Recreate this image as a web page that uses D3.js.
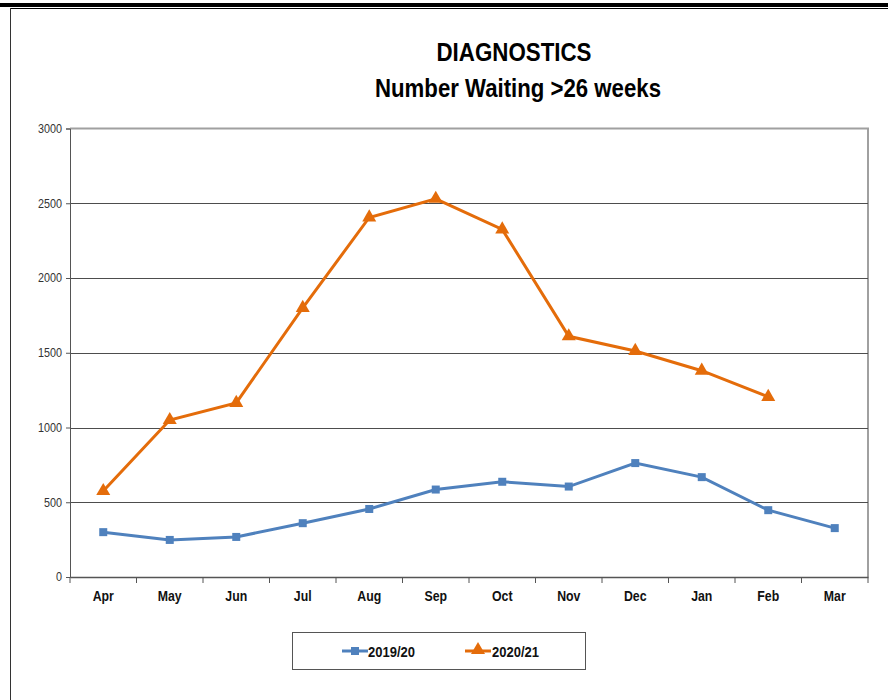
<!DOCTYPE html>
<html><head><meta charset="utf-8">
<script src="https://cdn.jsdelivr.net/npm/d3@7"></script>
<style>body{margin:0;background:#fff}svg{display:block}</style>
</head><body>
<script>
const months = ["Apr","May","Jun","Jul","Aug","Sep","Oct","Nov","Dec","Jan","Feb","Mar"];
const series2019 = [300, 248, 268, 360, 455, 585, 637, 605, 762, 668, 447, 327];
const series2020 = [575, 1050, 1165, 1800, 2405, 2530, 2325, 1610, 1512, 1380, 1205];
const yTicks = [0, 500, 1000, 1500, 2000, 2500, 3000];
const seriesNames = ["2019/20", "2020/21"];

const W = 888, H = 700;
const svg = d3.select("body").append("svg").attr("width", W).attr("height", H);
const narrow = "'Liberation Sans Narrow','Arial Narrow','Liberation Sans',Arial,sans-serif";

// frame lines
svg.append("rect").attr("x",0).attr("y",3).attr("width",W).attr("height",4).attr("fill","#000");
svg.append("line").attr("x1",10).attr("x2",W).attr("y1",8.5).attr("y2",8.5).attr("stroke","#000").attr("stroke-width",1);
svg.append("line").attr("x1",10.5).attr("x2",10.5).attr("y1",8).attr("y2",H).attr("stroke","#333").attr("stroke-width",1);

const L = 70, R = 868, T = 128.5, B = 577;
const x = d3.scaleBand().domain(months).range([L, R]);
const y = d3.scaleLinear().domain([0, 3000]).range([B, T]);

// title
svg.append("text").attr("x",514).attr("y",61).attr("text-anchor","middle")
  .attr("font-family",narrow).attr("font-weight","bold").attr("font-size",26)
  .attr("textLength",155).attr("lengthAdjust","spacingAndGlyphs").text("DIAGNOSTICS");
svg.append("text").attr("x",518).attr("y",97).attr("text-anchor","middle")
  .attr("font-family",narrow).attr("font-weight","bold").attr("font-size",26)
  .attr("textLength",286).attr("lengthAdjust","spacingAndGlyphs").text("Number Waiting >26 weeks");

// plot border (top/right)
svg.append("path").attr("d",`M${L},${T}H${R}V${B}`).attr("fill","none").attr("stroke","#a0a0a0").attr("stroke-width",2);

// gridlines
svg.append("g").selectAll("line").data(yTicks.filter(d=>d>0 && d<3000)).join("line")
  .attr("x1",L).attr("x2",R).attr("y1",d=>Math.round(y(d))+0.5).attr("y2",d=>Math.round(y(d))+0.5)
  .attr("stroke","#4d4d4d").attr("stroke-width",1);

// y axis
const ya = svg.append("g").attr("transform",`translate(${L},0)`)
  .call(d3.axisLeft(y).tickValues(yTicks).tickSize(4).tickPadding(4).tickFormat(d3.format("d")));
ya.select(".domain").attr("stroke","#555");
ya.selectAll(".tick line").attr("stroke","#555");
ya.selectAll("text").attr("font-family",narrow).attr("font-size",12).attr("fill","#333")
  .attr("x",-9).attr("transform","scale(0.9,1)");

// x axis
const xa = svg.append("g").attr("transform",`translate(0,${B})`)
  .call(d3.axisBottom(x).tickSize(0).tickPadding(14));
xa.select(".domain").attr("stroke","#555").attr("stroke-width",1.5);
xa.selectAll("text").attr("font-family",narrow).attr("font-weight","bold").attr("font-size",14).attr("fill","#111")
  .attr("transform","scale(0.88,1)");
svg.append("g").selectAll("line").data(d3.range(months.length+1)).join("line")
  .attr("x1",i=>L + i*x.bandwidth()).attr("x2",i=>L + i*x.bandwidth())
  .attr("y1",B).attr("y2",B+6).attr("stroke","#555");

const cx = (i) => x(months[i]) + x.bandwidth()/2;
const blue = "#4f81bd", orange = "#e46c0a";
const line = d3.line().x((d,i)=>cx(i)).y(d=>y(d));

svg.append("path").datum(series2019).attr("d",line).attr("fill","none").attr("stroke",blue).attr("stroke-width",3);
svg.append("g").selectAll("rect").data(series2019).join("rect")
  .attr("x",(d,i)=>cx(i)-4).attr("y",d=>y(d)-4).attr("width",8).attr("height",8).attr("fill",blue);

svg.append("path").datum(series2020).attr("d",line).attr("fill","none").attr("stroke",orange).attr("stroke-width",3);
const tri = d3.symbol().type(d3.symbolTriangle).size(85);
svg.append("g").selectAll("path").data(series2020).join("path")
  .attr("transform",(d,i)=>`translate(${cx(i)},${y(d)})`).attr("d",tri).attr("fill",orange);

// legend
svg.append("rect").attr("x",292.5).attr("y",632.5).attr("width",293).attr("height",37)
  .attr("fill","#fff").attr("stroke","#555").attr("stroke-width",1);
const lg = [{name:seriesNames[0],c:blue,x0:342,tx:368,m:"sq"},{name:seriesNames[1],c:orange,x0:465,tx:492,m:"tri"}];
lg.forEach(o=>{
  svg.append("line").attr("x1",o.x0).attr("x2",o.x0+26).attr("y1",651).attr("y2",651).attr("stroke",o.c).attr("stroke-width",3);
  if(o.m==="sq") svg.append("rect").attr("x",o.x0+9).attr("y",647).attr("width",8).attr("height",8).attr("fill",o.c);
  else svg.append("path").attr("transform",`translate(${o.x0+13},650)`).attr("d",tri).attr("fill",o.c);
  svg.append("text").attr("x",o.tx).attr("y",656.5).attr("font-family",narrow).attr("font-weight","bold")
    .attr("font-size",15).attr("fill","#111").attr("textLength",47).attr("lengthAdjust","spacingAndGlyphs").text(o.name);
});
</script>
</body></html>
